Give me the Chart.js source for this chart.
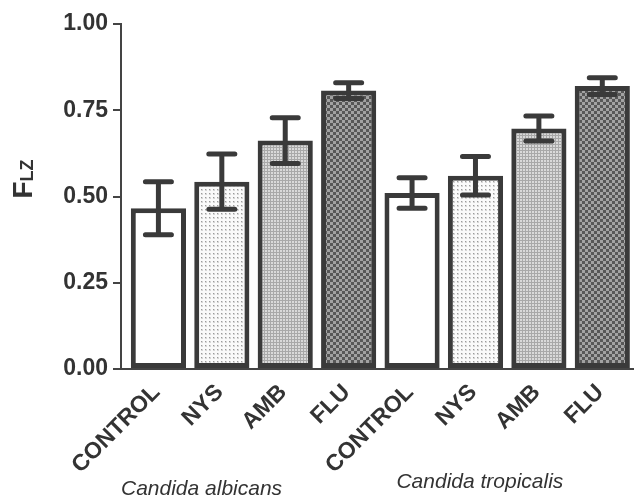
<!DOCTYPE html>
<html>
<head>
<meta charset="utf-8">
<script src="https://cdn.jsdelivr.net/npm/chart.js@4.4.1/dist/chart.umd.min.js"></script>
<style>
  html, body { margin: 0; padding: 0; background: #fff; }
  #wrap { width: 634px; height: 501px; }
</style>
</head>
<body>
<div id="wrap"><canvas id="chart" width="634" height="501"></canvas></div>
<script>
const categories = ["CONTROL", "NYS", "AMB", "FLU", "CONTROL", "NYS", "AMB", "FLU"];
const groups = ["Candida albicans", "Candida tropicalis"];
const means = [0.466, 0.543, 0.662, 0.807, 0.51, 0.56, 0.697, 0.82];
const errors = [0.077, 0.08, 0.066, 0.023, 0.044, 0.056, 0.036, 0.024];
const yTicks = [0, 0.25, 0.5, 0.75, 1];

const ink = "#3a3a3a";
const font = "'Liberation Sans', Arial, sans-serif";

// little tiles for the hatched fills
function tile(size, paint) {
  const c = document.createElement("canvas");
  c.width = size; c.height = size;
  const g = c.getContext("2d");
  paint(g);
  return g.createPattern(c, "repeat");
}

const patterns = {
  CONTROL: "#ffffff",
  NYS: tile(4, g => {
    g.fillStyle = "#fafafa"; g.fillRect(0, 0, 4, 4);
    g.fillStyle = "#d6d6d6"; g.fillRect(1, 1, 2, 2);
    g.fillStyle = "#9a9a9a"; g.fillRect(1, 1, 1, 1);
  }),
  AMB: tile(3, g => {
    g.fillStyle = "#d9d9d9"; g.fillRect(0, 0, 3, 3);
    g.fillStyle = "#a8a8a8"; g.fillRect(0, 0, 3, 1); g.fillRect(0, 0, 1, 3);
  }),
  FLU: tile(6, g => {
    g.fillStyle = "#575757"; g.fillRect(0, 0, 6, 6);
    g.fillStyle = "#a2a2a2"; g.fillRect(0, 0, 3, 3); g.fillRect(3, 3, 3, 3);
  })
};

const extras = {
  id: "extras",
  afterDatasetsDraw(chart) {
    const ctx = chart.ctx, y = chart.scales.y;
    const bars = chart.getDatasetMeta(0).data;
    ctx.save();
    ctx.strokeStyle = ink;
    ctx.lineWidth = 5;
    ctx.lineCap = "round";
    bars.forEach((bar, i) => {
      const top = y.getPixelForValue(means[i] + errors[i]);
      const bot = y.getPixelForValue(means[i] - errors[i]);
      ctx.beginPath();
      ctx.moveTo(bar.x, top); ctx.lineTo(bar.x, bot);
      ctx.moveTo(bar.x - 13, top); ctx.lineTo(bar.x + 13, top);
      ctx.moveTo(bar.x - 13, bot); ctx.lineTo(bar.x + 13, bot);
      ctx.stroke();
    });
    ctx.restore();
  },
  afterDraw(chart) {
    const ctx = chart.ctx, x = chart.scales.x, y = chart.scales.y;
    ctx.save();
    ctx.fillStyle = "#333";
    // y title: F with subscript LZ
    ctx.translate(chart.chartArea.left - 89, y.getPixelForValue(0.5) + 2);
    ctx.rotate(-Math.PI / 2);
    ctx.textBaseline = "alphabetic";
    ctx.font = "bold 28px " + font;
    ctx.fillText("F", 0, 0);
    const w = ctx.measureText("F").width;
    ctx.font = "bold 18px " + font;
    ctx.fillText("LZ", w, 1);
    ctx.restore();

    ctx.save();
    ctx.fillStyle = "#333";
    ctx.font = "italic 21px " + font;
    ctx.textAlign = "center";
    ctx.textBaseline = "alphabetic";
    ctx.fillText(groups[0], x.getPixelForValue(0.68), chart.height - 6);
    ctx.fillText(groups[1], x.getPixelForValue(5.07), chart.height - 13);
    ctx.restore();
  }
};

new Chart(document.getElementById("chart"), {
  type: "bar",
  data: {
    datasets: [{
      data: means.map((m, i) => ({ x: i, y: m })),
      backgroundColor: categories.map(c => patterns[c]),
      borderColor: ink,
      borderWidth: 5,
      borderSkipped: false,
      categoryPercentage: 1,
      barPercentage: 0.87
    }]
  },
  options: {
    responsive: false,
    animation: false,
    layout: { padding: { top: 24, left: 0, right: 0, bottom: 0 } },
    plugins: { legend: { display: false }, tooltip: { enabled: false } },
    scales: {
      x: {
        type: "linear",
        offset: false,
        min: -0.59,
        max: 7.5,
        grid: { display: false, drawTicks: false, offset: false },
        border: { display: true, color: "#444", width: 2 },
        ticks: {
          stepSize: 1,
          includeBounds: false,
          autoSkip: false,
          minRotation: 45,
          maxRotation: 45,
          padding: 10,
          labelOffset: -2,
          color: "#333",
          font: { family: font, size: 23, weight: "bold" },
          callback: v => categories[v] ?? ""
        },
        afterFit: s => { s.height = 132; s.paddingLeft = 0; s.paddingRight = 0; }
      },
      y: {
        min: 0,
        max: 1,
        grid: { drawOnChartArea: false, drawTicks: true, tickLength: 8, color: "#444", lineWidth: 2 },
        border: { display: true, color: "#444", width: 2 },
        afterBuildTicks: s => { s.ticks = yTicks.map(v => ({ value: v })); },
        ticks: {
          padding: 5,
          color: "#333",
          font: { family: font, size: 23, weight: "bold" },
          callback: v => v.toFixed(2)
        },
        afterFit: s => { s.width = 121; s.paddingTop = 0; s.paddingBottom = 0; }
      }
    }
  },
  plugins: [extras]
});
</script>
</body>
</html>
